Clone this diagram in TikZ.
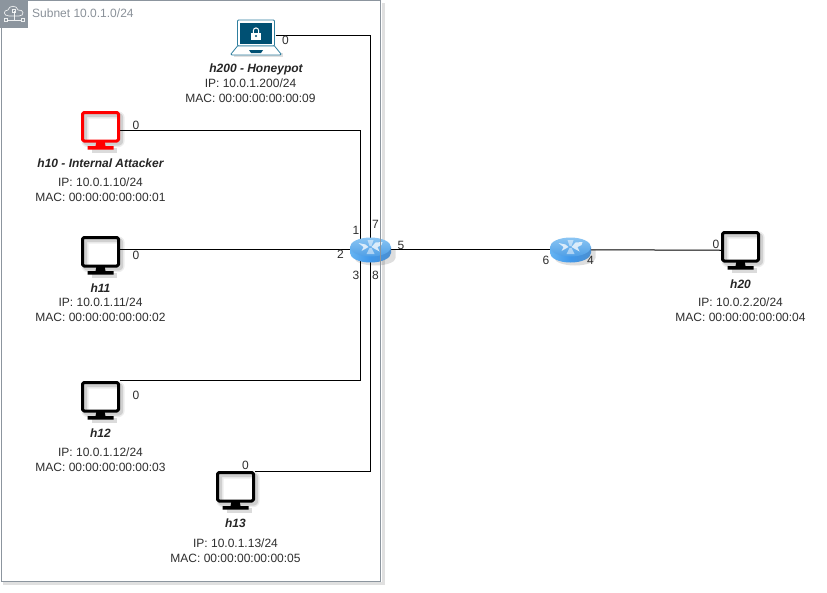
\documentclass[tikz,border=0pt]{standalone}
\usepackage{fontspec}
\setmainfont{Liberation Sans}
\definecolor{framegray}{HTML}{8C959E}
\definecolor{labelgray}{HTML}{8A9199}
\definecolor{textdark}{HTML}{2E2E2E}
\definecolor{lapblue}{HTML}{005073}
\definecolor{lapedge}{HTML}{2F7F9F}
\definecolor{rtop}{HTML}{6DB6F0}
\definecolor{rtopb}{HTML}{4F9FE6}
\definecolor{rside}{HTML}{3F97EA}
\definecolor{rsidel}{HTML}{66B4F2}
\definecolor{rsided}{HTML}{4D8FCF}
\tikzset{
  x=1pt,y=-1pt,
  devbox/.style={minimum width=39pt,minimum height=39pt,inner sep=0pt,outer sep=0pt},
  routerbox/.style={minimum width=41pt,minimum height=25pt,inner sep=0pt,outer sep=0pt},
  link/.style={draw=black,line width=1pt},
  titletxt/.style={font=\fontsize{12}{14}\selectfont\bfseries\itshape,text=black!85,inner sep=0pt},
  infotxt/.style={font=\fontsize{12}{14.7}\selectfont,text=textdark,align=center,inner sep=0pt},
  porttxt/.style={font=\fontsize{12}{14}\selectfont,text=textdark,inner sep=0pt},
}
% node name, colour
\newcommand{\monitorart}[2]{%
  \begin{scope}[shift={(#1.center)}]
    \draw[black,opacity=.07,line width=7pt,line join=round,rounded corners=2pt] (-15.5,-15.5) rectangle (20.5,13);
    \draw[black,opacity=.12,line width=4pt,line join=round,rounded corners=2pt] (-15.5,-15.5) rectangle (20.5,13);
    \fill[black,opacity=.14] (-9,17) rectangle (16,22);
    \draw[#2,line width=3pt,line join=round,rounded corners=1.5pt] (-18,-18) rectangle (18,10.5);
    \fill[#2] (-4,10.5) -- (4,10.5) -- (5,15.5) -- (13,15.5) -- (13,19) -- (-13,19) -- (-13,15.5) -- (-5,15.5) -- cycle;
  \end{scope}}
% node name
\newcommand{\routerart}[1]{%
  \begin{scope}[shift={(#1.center)}]
    \fill[black,opacity=.13] (-16,0) -- (-16,8) arc[x radius=20.5,y radius=7.5,start angle=180,end angle=0] -- (25,0) -- cycle;
    \shade[left color=rsidel,right color=rsided,middle color=rside]
      (-20.5,-3) -- (-20.5,3) arc[x radius=20.5,y radius=9.5,start angle=180,end angle=0] -- (20.5,-3) -- cycle;
    \shade[top color=rtop!80!white,bottom color=rtopb] (0,-3) ellipse[x radius=20.5,y radius=9.5];
    \fill[white,opacity=.75] (-12,-7) -- (-5,-5.5) -- (-2,-3) -- (-9,1) -- (-7,-3) -- cycle;
    \fill[white,opacity=.75] (12,-8) -- (5,-7.5) -- (1,-3) -- (9,1.5) -- (7,-3) -- (11,-5) -- cycle;
    \fill[white,opacity=.5] (-3,-10) -- (3,-10) -- (1,-4) -- (-1,-4) -- cycle;
    \fill[white,opacity=.5] (-4,4) -- (4,4) -- (1,-2) -- (-1,-2) -- cycle;
  \end{scope}}
\begin{document}
\begin{tikzpicture}
\useasboundingbox (0,0) rectangle (827,592);
\fill[white] (0,0) rectangle (827,592);
% container shadow
\draw[black,opacity=.12,line width=2.5pt] (383.5,3) -- (383.5,583.5) -- (3,583.5);

% devices
\node[devbox] (h200) at (256,35.5) {};
\node[devbox] (h10) at (100.5,130.5) {};
\node[devbox] (h11) at (100.5,255.5) {};
\node[devbox] (h12) at (100.5,400.5) {};
\node[devbox] (h13) at (235.5,490.5) {};
\node[devbox] (h20) at (740.5,250.5) {};
\node[routerbox] (r1) at (370.5,250) {};
\node[routerbox] (r2) at (570.5,250) {};

% links
\draw[link] (h200.east) -| ([yshift=-3pt]r1.north);
\draw[link] (h10.east) -| ([xshift=-10.5pt,yshift=-3pt]r1.north);
\draw[link] ([yshift=6pt]h11.east) -- ([yshift=0.5pt]r1.west);
\draw[link] ([yshift=20pt]h12.east) -| ([xshift=-10.5pt,yshift=3pt]r1.south);
\draw[link] ([yshift=19pt]h13.east) -| ([yshift=3pt]r1.south);
\draw[link] ([yshift=0.5pt]r1.east) -- ([yshift=0.5pt]r2.west);
\draw[link] ([yshift=0.25pt]r2.east) -- ([yshift=0.25pt]h20.west);

% device drawings
\routerart{r1}
\routerart{r2}
\monitorart{h10}{red}
\monitorart{h11}{black}
\monitorart{h12}{black}
\monitorart{h13}{black}
\monitorart{h20}{black}

% laptop
\begin{scope}[shift={(h200.center)},yshift=-1.5pt]
  \fill[black,opacity=.12] (-22,16) -- (27,16) -- (27,20) -- (-22,20) -- cycle;
  \draw[lapedge,line width=.8pt,fill=white,rounded corners=1pt] (-18.5,-17) rectangle (18.5,9);
  \fill[lapblue] (-16,-14) rectangle (16,7);
  \draw[lapedge,line width=.8pt,fill=white,line join=round] (-18.5,9) -- (18.5,9) -- (25,17) -- (24,18) -- (-24,18) -- (-25,17) -- cycle;
  \fill[lapblue] (-7,13) -- (7,13) -- (5,16) -- (-5,16) -- cycle;
  \draw[white,line width=1pt] (-2.6,-4) -- (-2.6,-6.5) arc[x radius=2.6,y radius=2.6,start angle=180,end angle=360] -- (2.6,-4);
  \fill[white] (-5,-4) rectangle (5,3);
  \fill[lapblue] (0,-1) circle[radius=1.1];
\end{scope}

% titles
\node[titletxt] (t200) at (256,69) {h200 - Honeypot};
\node[titletxt] (t10) at (100.5,163.5) {h10 - Internal Attacker};
\node[titletxt] (t11) at (100.5,288) {h11};
\node[titletxt] (t12) at (100.5,433.5) {h12};
\node[titletxt] (t13) at (235.5,523.5) {h13};
\node[titletxt] (t20) at (740.5,284) {h20};

% info
\node[infotxt] (i200) at (250.5,90.5) {IP: 10.0.1.200/24\\MAC: 00:00:00:00:00:09};
\node[infotxt] (i10) at (100.5,190) {IP: 10.0.1.10/24\\MAC: 00:00:00:00:00:01};
\node[infotxt] (i11) at (100.5,310) {IP: 10.0.1.11/24\\MAC: 00:00:00:00:00:02};
\node[infotxt] (i12) at (100.5,460) {IP: 10.0.1.12/24\\MAC: 00:00:00:00:00:03};
\node[infotxt] (i13) at (235.5,551) {IP: 10.0.1.13/24\\MAC: 00:00:00:00:00:05};
\node[infotxt] (i20) at (740.5,310) {IP: 10.0.2.20/24\\MAC: 00:00:00:00:00:04};

% ports
\node[porttxt] (p200) at (285.5,40) {0};
\node[porttxt] (p10) at (136,125) {0};
\node[porttxt] (p11) at (136,255) {0};
\node[porttxt] (p12) at (136,395) {0};
\node[porttxt] (p13) at (245.5,465) {0};
\node[porttxt] (p20) at (716,244.5) {0};
\node[porttxt] (p1) at (356,230) {1};
\node[porttxt] (p7) at (375.5,224.5) {7};
\node[porttxt] (p2) at (340.5,254.5) {2};
\node[porttxt] (p3) at (356,275) {3};
\node[porttxt] (p8) at (375.5,275) {8};
\node[porttxt] (p5) at (401,245) {5};
\node[porttxt] (p6) at (546,260) {6};
\node[porttxt] (p4) at (590.5,260) {4};

% subnet container
\draw[framegray,line width=1pt] (1,0.5) rectangle (380.5,581);
\fill[framegray] (0,0) rectangle (28,28);
\begin{scope}[shift={(14,14)}]
  \draw[white,line width=.7pt,line join=round,opacity=.85]
    (-5,2) .. controls (-11,2) and (-11,-4) .. (-6,-4) .. controls (-5,-9) and (3,-9) .. (4,-4) .. controls (10,-5) and (11,2) .. (5,2) -- cycle;
  \draw[white,line width=.7pt,opacity=.85] (0,-3) -- (0,6) (-7,6) -- (7,6);
  \draw[white,line width=.7pt,opacity=.85] (-1.5,-4.5) rectangle (1.5,-1.5);
  \draw[white,line width=.7pt,opacity=.85] (-10,4.5) rectangle (-7,7.5) (7,4.5) rectangle (10,7.5);
\end{scope}
\node[font=\fontsize{12}{14}\selectfont,text=labelgray,anchor=west,inner sep=0pt] (sub) at (32,13.5) {Subnet 10.0.1.0/24};
\end{tikzpicture}
\end{document}
